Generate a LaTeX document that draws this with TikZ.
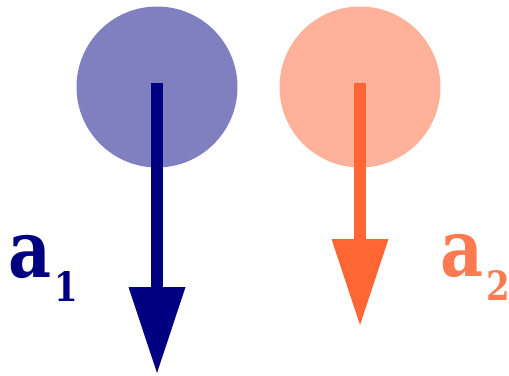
\documentclass[tikz,border=0pt]{standalone}
\usepackage{fontspec}
\setmainfont{DejaVu Serif}
\usetikzlibrary{arrows.meta}

\definecolor{navy}{RGB}{0,0,128}
\definecolor{navylight}{RGB}{128,128,192}
\definecolor{coral}{RGB}{255,102,51}
\definecolor{corallight}{RGB}{255,178,153}
\definecolor{coraltext}{RGB}{255,122,80}

\newcommand{\acclab}[1]{\scalebox{0.84}[1]{a}\kern2pt\raisebox{-14pt}{\fontsize{23}{23}\selectfont\scalebox{0.84}[1]{#1}}}

\begin{document}
\begin{tikzpicture}[x=0.02cm, y=-0.02cm,
  ball/.style={circle, draw=none, minimum size=3.22cm, inner sep=0pt},
  vec/.style={line width=0.23cm, -{Triangle[length=1.72cm, width=1.14cm, line width=0pt]}},
  lab/.style={anchor=base west, inner sep=0pt, font=\fontsize{45}{45}\selectfont\bfseries}]

\useasboundingbox (0,0) rectangle (509,375);

%--------------------
% Masses
%--------------------
\node[ball, fill=navylight] (m1) at (157,87) {};
\node[ball, fill=corallight] (m2) at (360,87) {};

% Arrow ends
\coordinate (s1) at (157,83);
\coordinate (t1) at (157,373);
\coordinate (s2) at (360,83);
\coordinate (t2) at (360,325);

%--------------------
% Accelerations
%--------------------
\draw[vec, navy] (s1) -- (t1);
\draw[vec, coral] (s2) -- (t2);

% Labels
\node[lab, text=navy] (a1) at (8,277) {\acclab{1}};
\node[lab, text=coraltext] (a2) at (440,276) {\acclab{2}};

\end{tikzpicture}
\end{document}
